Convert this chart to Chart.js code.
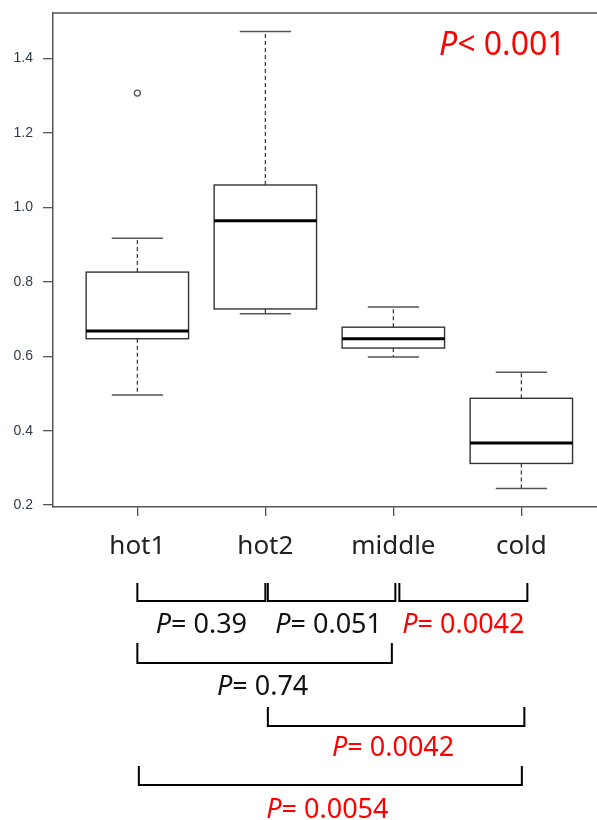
<!DOCTYPE html>
<html>
<head>
<meta charset="utf-8">
<script src="https://cdn.jsdelivr.net/npm/chart.js@4.4.1/dist/chart.umd.min.js"></script>
<style>
  html, body { margin: 0; padding: 0; background: #ffffff; }
  #wrap { width: 597px; height: 820px; }
</style>
</head>
<body>
<div id="wrap"><canvas id="c" width="597" height="820"></canvas></div>
<script>
// ---- data ----
const categories   = ['hot1', 'hot2', 'middle', 'cold'];
const whiskerLow   = [0.496, 0.714, 0.598, 0.245];
const quartile1    = [0.647, 0.727, 0.622, 0.312];
const medians      = [0.668, 0.964, 0.647, 0.367];
const quartile3    = [0.826, 1.060, 0.678, 0.487];
const whiskerHigh  = [0.917, 1.472, 0.732, 0.557];
const outlierCat   = [1];
const outlierVal   = [1.307];
const yTicks       = [0.2, 0.4, 0.6, 0.8, 1.0, 1.2, 1.4];
const overallP     = '< 0.001';
const compLeft     = [1, 2, 3, 1, 2, 1];
const compRight    = [2, 3, 4, 3, 4, 4];
const pValues      = ['0.39', '0.051', '0.0042', '0.74', '0.0042', '0.0054'];
const significant  = [false, false, true, false, true, true];

// ---- styling / layout (not data) ----
const RED = '#ff0000';
const TXT = '#111111';
const FONT = '"Noto Sans", "Open Sans", sans-serif';
const bracketRows = [
  {top: 583, bottom: 601, text: 625},
  {top: 643, bottom: 663, text: 687},
  {top: 707, bottom: 726, text: 748},
  {top: 766, bottom: 785, text: 810}
];
const compRow   = [0, 0, 0, 1, 2, 3];
const compNudge = [[0, 0], [2.5, 2], [6, 6], [0, -1.5], [2.5, 3], [1.5, 0.5]];
const textNudge = [0, -3, 0, -2, -3, -3];

function drawP(ctx, cx, cy, prefix, value, color, size) {
  const italic = 'italic ' + size + 'px ' + FONT;
  const normal = size + 'px ' + FONT;
  ctx.font = italic;
  const wP = ctx.measureText('P').width;
  ctx.font = normal;
  const rest = prefix + ' ' + value;
  const wR = ctx.measureText(rest).width;
  const x0 = cx - (wP + wR) / 2;
  ctx.fillStyle = color;
  ctx.textBaseline = 'middle';
  ctx.textAlign = 'left';
  ctx.font = italic;
  ctx.fillText('P', x0, cy);
  ctx.font = normal;
  ctx.fillText(rest, x0 + wP, cy);
}

const boxPlugin = {
  id: 'boxes',
  afterLayout(chart) {
    // let the plot frame run to the right edge of the canvas (reference is cropped there)
    const xs = chart.scales.x;
    const right = chart.width;
    chart.chartArea.right = right;
    chart.chartArea.width = right - chart.chartArea.left;
    xs.right = right;
    xs.width = right - xs.left;
    xs.configure();
  },
  beforeDatasetsDraw(chart) {
    const ctx = chart.ctx;
    const xs = chart.scales.x, ys = chart.scales.y;
    const area = chart.chartArea;
    ctx.save();
    // top border of the plot frame
    ctx.strokeStyle = '#555';
    ctx.lineWidth = 1.5;
    ctx.beginPath();
    ctx.moveTo(area.left, area.top);
    ctx.lineTo(area.right, area.top);
    ctx.stroke();

    for (let i = 0; i < categories.length; i++) {
      const c = i + 1;
      const xl = xs.getPixelForValue(c - 0.4), xr = xs.getPixelForValue(c + 0.4);
      const xc = xs.getPixelForValue(c);
      const cl = xs.getPixelForValue(c - 0.2), cr = xs.getPixelForValue(c + 0.2);
      const yLo = ys.getPixelForValue(whiskerLow[i]);
      const yQ1 = ys.getPixelForValue(quartile1[i]);
      const yMd = ys.getPixelForValue(medians[i]);
      const yQ3 = ys.getPixelForValue(quartile3[i]);
      const yHi = ys.getPixelForValue(whiskerHigh[i]);
      // whiskers (dashed)
      ctx.strokeStyle = '#333';
      ctx.lineWidth = 1.2;
      ctx.setLineDash([4, 3]);
      ctx.beginPath();
      ctx.moveTo(xc, yQ3); ctx.lineTo(xc, yHi);
      ctx.moveTo(xc, yQ1); ctx.lineTo(xc, yLo);
      ctx.stroke();
      ctx.setLineDash([]);
      // caps
      ctx.strokeStyle = '#555';
      ctx.lineWidth = 1.5;
      ctx.beginPath();
      ctx.moveTo(cl, yHi); ctx.lineTo(cr, yHi);
      ctx.moveTo(cl, yLo); ctx.lineTo(cr, yLo);
      ctx.stroke();
      // box
      ctx.fillStyle = '#ffffff';
      ctx.fillRect(xl, yQ3, xr - xl, yQ1 - yQ3);
      ctx.strokeStyle = '#333';
      ctx.lineWidth = 1.4;
      ctx.strokeRect(xl, yQ3, xr - xl, yQ1 - yQ3);
      // median
      ctx.strokeStyle = '#000';
      ctx.lineWidth = 3;
      ctx.beginPath();
      ctx.moveTo(xl, yMd); ctx.lineTo(xr, yMd);
      ctx.stroke();
    }
    ctx.restore();
  },
  afterDraw(chart) {
    const ctx = chart.ctx;
    const xs = chart.scales.x;
    ctx.save();
    // overall P
    ctx.font = 'italic 32px ' + FONT;
    const wP = ctx.measureText('P').width;
    ctx.fillStyle = RED;
    ctx.textBaseline = 'alphabetic';
    ctx.textAlign = 'left';
    ctx.fillText('P', 439, 55);
    ctx.font = '32px ' + FONT;
    ctx.fillText(overallP, 439 + wP, 55);

    // pairwise brackets
    for (let k = 0; k < pValues.length; k++) {
      const row = bracketRows[compRow[k]];
      const x1 = xs.getPixelForValue(compLeft[k]) + compNudge[k][0];
      const x2 = xs.getPixelForValue(compRight[k]) + compNudge[k][1];
      ctx.strokeStyle = '#000';
      ctx.lineWidth = 2;
      ctx.lineJoin = 'miter';
      ctx.beginPath();
      ctx.moveTo(x1, row.top);
      ctx.lineTo(x1, row.bottom);
      ctx.lineTo(x2, row.bottom);
      ctx.lineTo(x2, row.top);
      ctx.stroke();
      drawP(ctx, (x1 + x2) / 2 + textNudge[k], row.text, '=', pValues[k],
            significant[k] ? RED : TXT, 27);
    }
    ctx.restore();
  }
};

new Chart(document.getElementById('c'), {
  type: 'scatter',
  data: {
    datasets: [{
      data: outlierCat.map((c, i) => ({x: c, y: outlierVal[i]})),
      pointRadius: 3,
      pointBorderWidth: 1.3,
      pointBorderColor: '#555',
      pointBackgroundColor: '#ffffff'
    }]
  },
  options: {
    responsive: false,
    animation: false,
    devicePixelRatio: 1,
    layout: { padding: { left: 0, top: 13, right: 0, bottom: 263 } },
    plugins: { legend: { display: false }, tooltip: { enabled: false } },
    scales: {
      x: {
        type: 'linear',
        min: 0.341,
        max: 4.591,
        afterBuildTicks(scale) { scale.ticks = categories.map((_, i) => ({value: i + 1})); },
        afterFit(scale) { scale.height = 50; scale.paddingLeft = 0; scale.paddingRight = 0; },
        ticks: {
          autoSkip: false,
          maxRotation: 0,
          padding: 15,
          color: '#222',
          font: { family: FONT, size: 26 },
          callback: (v) => categories[Math.round(v) - 1]
        },
        grid: { drawOnChartArea: false, drawTicks: true, tickLength: 9, color: '#555', lineWidth: 1.3 },
        border: { display: true, color: '#555', width: 1.5 }
      },
      y: {
        min: 0.195,
        max: 1.522,
        afterBuildTicks(scale) { scale.ticks = yTicks.map(v => ({value: v})); },
        afterFit(scale) { scale.width = 53; scale.paddingTop = 0; scale.paddingBottom = 0; },
        ticks: {
          padding: 10,
          color: '#2e3a4a',
          font: { family: '"Liberation Sans", Arial, sans-serif', size: 14 },
          callback: (v) => v.toFixed(1)
        },
        grid: { drawOnChartArea: false, drawTicks: true, tickLength: 10, color: '#555', lineWidth: 1.3 },
        border: { display: true, color: '#555', width: 1.5 }
      }
    }
  },
  plugins: [boxPlugin]
});
</script>
</body>
</html>
